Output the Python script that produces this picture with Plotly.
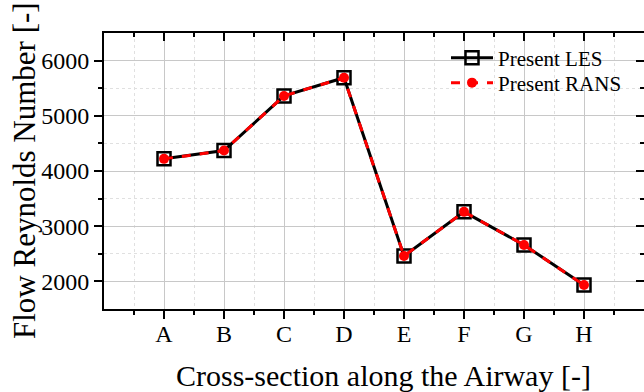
import plotly.graph_objects as go

# Cross-sections along the airway and flow Reynolds number per model
sections = ["A", "B", "C", "D", "E", "F", "G", "H"]
re_les = [4220, 4370, 5360, 5690, 2460, 3260, 2660, 1935]
re_rans = [4220, 4370, 5360, 5690, 2460, 3260, 2660, 1935]
y_ticks = [2000, 3000, 4000, 5000, 6000]
y_minor = [2500, 3500, 4500, 5500]

pos = list(range(1, len(sections) + 1))
serif = "Liberation Serif"
W, H = 644, 392
ML, MR, MT, MB = 104, 0, 33, 83
pw, ph = W - ML - MR, H - MT - MB


def px_x(v):
    return (v - ML) / pw


def px_y(v):
    return (H - MB - v) / ph


fig = go.Figure()
fig.add_trace(go.Scatter(
    x=pos, y=re_les, mode="lines+markers", name="Present LES", legend="legend",
    line=dict(color="black", width=3),
    marker=dict(symbol="square-open", size=13, color="black", line=dict(width=2.5)),
))
fig.add_trace(go.Scatter(
    x=pos, y=re_rans, mode="lines+markers", name="Present RANS", legend="legend2",
    line=dict(color="#ff0000", width=3, dash="dash"),
    marker=dict(symbol="circle", size=10, color="#ff0000"),
))
# helper trace so the mirrored top/right frame axes get drawn
fig.add_trace(go.Scatter(x=[None], y=[None], xaxis="x2", yaxis="y2",
                         showlegend=False, hoverinfo="skip"))

xr = [0, 9]
yr = [1500, 6500]
minor_x = [i + 0.5 for i in range(0, 9)]

legend_common = dict(xanchor="left", yanchor="middle", bgcolor="rgba(0,0,0,0)",
                     font=dict(size=21, family=serif), itemwidth=42)

fig.update_layout(
    width=W, height=H,
    margin=dict(l=ML, r=MR, t=MT, b=MB),
    paper_bgcolor="white", plot_bgcolor="white",
    font=dict(family=serif, color="black"),
    showlegend=True,
    legend=dict(x=px_x(446), y=px_y(58), **legend_common),
    legend2=dict(x=px_x(446), y=px_y(83), **legend_common),
    xaxis=dict(
        range=xr, tickmode="array", tickvals=pos, ticktext=sections,
        ticks="outside", ticklen=8, tickwidth=1.5, tickcolor="black",
        showline=True, linecolor="black", linewidth=2,
        showgrid=True, gridcolor="#c8c8c8", gridwidth=1,
        zeroline=False, tickfont=dict(size=24), ticklabelstandoff=-6,
        minor=dict(tickmode="array", tickvals=minor_x, ticks="outside", ticklen=4,
                   tickcolor="black", showgrid=True, gridcolor="#e0e0e0",
                   griddash="dot", gridwidth=1),
    ),
    yaxis=dict(
        range=yr, tickmode="array", tickvals=y_ticks,
        ticks="outside", ticklen=8, tickwidth=1.5, tickcolor="black",
        showline=True, linecolor="black", linewidth=2,
        showgrid=True, gridcolor="#c8c8c8", gridwidth=1,
        zeroline=False, tickfont=dict(size=24),
        minor=dict(tickmode="array", tickvals=y_minor, ticks="outside",
                   ticklen=4, tickcolor="black", showgrid=True, gridcolor="#e0e0e0",
                   griddash="dot", gridwidth=1),
    ),
    xaxis2=dict(
        range=xr, overlaying="x", side="top", anchor="y2",
        tickmode="array", tickvals=pos, ticks="inside", ticklen=8, tickwidth=1.5,
        tickcolor="black", showticklabels=False, showline=True, linecolor="black",
        linewidth=2, showgrid=False, zeroline=False,
        minor=dict(tickmode="array", tickvals=minor_x, ticks="inside", ticklen=4,
                   tickcolor="black", showgrid=False),
    ),
    yaxis2=dict(
        range=yr, overlaying="y", side="right", anchor="x2",
        tickmode="array", tickvals=y_ticks, ticks="inside",
        ticklen=8, tickwidth=1.5, tickcolor="black", showticklabels=False,
        showline=True, linecolor="black", linewidth=2, showgrid=False, zeroline=False,
        minor=dict(tickmode="array", tickvals=y_minor, ticks="inside",
                   ticklen=4, tickcolor="black", showgrid=False),
    ),
)

# white panel behind the legend, above the gridlines
fig.add_shape(type="rect", xref="paper", yref="paper", layer="below",
              x0=px_x(445), x1=px_x(608), y0=px_y(93), y1=px_y(47),
              fillcolor="white", line=dict(width=0))

# axis titles placed in paper pixels
fig.add_annotation(text="Cross-section along the Airway [-]", xref="paper", yref="paper",
                   x=px_x(383), y=px_y(375), xanchor="center", yanchor="middle",
                   showarrow=False, font=dict(size=30, family=serif))
fig.add_annotation(text="Flow Reynolds Number [-]", xref="paper", yref="paper",
                   x=px_x(24), y=px_y(171), xanchor="center", yanchor="middle",
                   textangle=-90, showarrow=False, font=dict(size=31, family=serif))

fig.write_html("out.html")
